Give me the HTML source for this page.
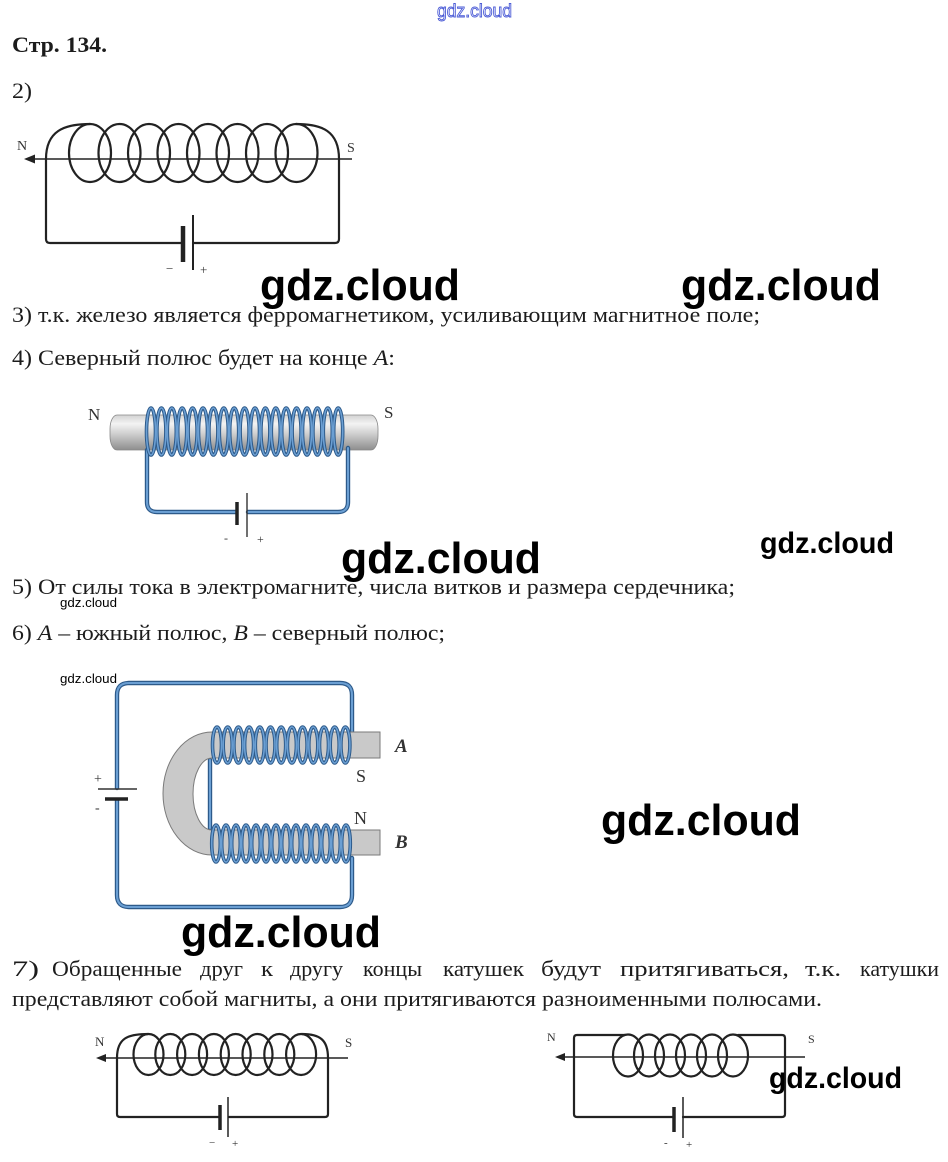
<!DOCTYPE html>
<html>
<head>
<meta charset="utf-8">
<style>
html,body{margin:0;padding:0;background:#fff;}
svg{display:block;}
.t{font-family:"Liberation Serif","DejaVu Serif",serif;font-size:22px;fill:#1c1c1c;}
.wm{font-family:"Liberation Sans","DejaVu Sans",sans-serif;font-weight:bold;fill:#000;}
.wms{font-family:"Liberation Sans","DejaVu Sans",sans-serif;fill:#000;}
.lbl{font-family:"Liberation Serif","DejaVu Serif",serif;fill:#333;}
.w{fill:none;stroke:#222;stroke-width:2.2;stroke-linecap:round;stroke-linejoin:round;}
.bo{fill:none;stroke:#2d5a8a;stroke-width:4.4;stroke-linecap:round;stroke-linejoin:round;}
.bi{fill:none;stroke:#6b9fd3;stroke-width:2;stroke-linecap:round;stroke-linejoin:round;}
</style>
</head>
<body>
<svg width="948" height="1162" viewBox="0 0 948 1162" xmlns="http://www.w3.org/2000/svg">
<defs>
<linearGradient id="rod" x1="0" y1="0" x2="0" y2="1">
<stop offset="0" stop-color="#d2d2d2"/>
<stop offset="0.25" stop-color="#f3f3f3"/>
<stop offset="0.55" stop-color="#cdcdcd"/>
<stop offset="1" stop-color="#8e8e8e"/>
</linearGradient>
</defs>
<rect width="948" height="1162" fill="#fff"/>

<!-- top small watermark -->
<text x="437" y="17" font-family="Liberation Sans, DejaVu Sans, sans-serif" font-size="18" fill="#fff" stroke="#4b5bd6" stroke-width="0.9" textLength="75" lengthAdjust="spacingAndGlyphs">gdz.cloud</text>

<!-- header -->
<text x="12" y="52" class="t" font-weight="bold" font-size="21" textLength="95" lengthAdjust="spacingAndGlyphs">Стр. 134.</text>
<text x="12" y="98" class="t" textLength="20" lengthAdjust="spacingAndGlyphs">2)</text>

<!-- Diagram 1 -->
<g>
<line x1="32" y1="159" x2="352" y2="159" stroke="#222" stroke-width="1.6"/>
<polygon points="24,159 35,154.5 35,163.5" fill="#222"/>
<text x="17" y="150" class="lbl" font-size="14">N</text>
<text x="347" y="152" class="lbl" font-size="14">S</text>
<path class="w" d="M46,159 L46,239 Q46,243 50,243 L183,243"/>
<path class="w" d="M193,243 L335,243 Q339,243 339,239 L339,159"/>
<line x1="183" y1="226" x2="183" y2="262" stroke="#222" stroke-width="4.5"/>
<line x1="193" y1="215" x2="193" y2="270" stroke="#222" stroke-width="2"/>
<text x="166" y="273" class="lbl" font-size="13">−</text>
<text x="200" y="274" class="lbl" font-size="13">+</text>
<path class="w" d="M46,159 C46,131 64,124 90,124"/>
<path class="w" d="M296,124 C322,124 339,131 339,159"/>
<g class="w">
<ellipse cx="90" cy="153" rx="21" ry="29"/>
<ellipse cx="119.5" cy="153" rx="21" ry="29"/>
<ellipse cx="149" cy="153" rx="21" ry="29"/>
<ellipse cx="178.5" cy="153" rx="21" ry="29"/>
<ellipse cx="208" cy="153" rx="21" ry="29"/>
<ellipse cx="237.5" cy="153" rx="21" ry="29"/>
<ellipse cx="267" cy="153" rx="21" ry="29"/>
<ellipse cx="296.5" cy="153" rx="21" ry="29"/>
</g>
</g>

<!-- big watermarks row 1 -->
<text x="260" y="300" class="wm" font-size="44" textLength="200" lengthAdjust="spacingAndGlyphs">gdz.cloud</text>
<text x="681" y="300" class="wm" font-size="44" textLength="200" lengthAdjust="spacingAndGlyphs">gdz.cloud</text>

<!-- text lines 3,4 -->
<text x="12" y="322" class="t" textLength="748" lengthAdjust="spacingAndGlyphs">3) т.к. железо является ферромагнетиком, усиливающим магнитное поле;</text>
<text x="12" y="365" class="t" textLength="383" lengthAdjust="spacingAndGlyphs">4) Северный полюс будет на конце <tspan font-style="italic">A</tspan>:</text>

<!-- Diagram 2: rod -->
<g>
<text x="88" y="420" class="lbl" font-size="17">N</text>
<text x="384" y="418" class="lbl" font-size="17">S</text>
<rect x="110" y="415" width="268" height="35" rx="7" ry="14" fill="url(#rod)" stroke="#888" stroke-width="0.8"/>
<path class="bo" d="M147,450 L147,502 Q147,512 157,512 L236,512"/>
<path class="bo" d="M248,512 L338,512 Q348,512 348,502 L348,448"/>
<path class="bi" d="M147,450 L147,502 Q147,512 157,512 L236,512"/>
<path class="bi" d="M248,512 L338,512 Q348,512 348,502 L348,448"/>
<g fill="none" stroke="#2d5a8a" stroke-width="3.6">
<ellipse cx="151" cy="431.5" rx="4.5" ry="23.5"/><ellipse cx="161.4" cy="431.5" rx="4.5" ry="23.5"/><ellipse cx="171.8" cy="431.5" rx="4.5" ry="23.5"/><ellipse cx="182.2" cy="431.5" rx="4.5" ry="23.5"/><ellipse cx="192.6" cy="431.5" rx="4.5" ry="23.5"/><ellipse cx="203" cy="431.5" rx="4.5" ry="23.5"/><ellipse cx="213.4" cy="431.5" rx="4.5" ry="23.5"/><ellipse cx="223.8" cy="431.5" rx="4.5" ry="23.5"/><ellipse cx="234.2" cy="431.5" rx="4.5" ry="23.5"/><ellipse cx="244.6" cy="431.5" rx="4.5" ry="23.5"/><ellipse cx="255" cy="431.5" rx="4.5" ry="23.5"/><ellipse cx="265.4" cy="431.5" rx="4.5" ry="23.5"/><ellipse cx="275.8" cy="431.5" rx="4.5" ry="23.5"/><ellipse cx="286.2" cy="431.5" rx="4.5" ry="23.5"/><ellipse cx="296.6" cy="431.5" rx="4.5" ry="23.5"/><ellipse cx="307" cy="431.5" rx="4.5" ry="23.5"/><ellipse cx="317.4" cy="431.5" rx="4.5" ry="23.5"/><ellipse cx="327.8" cy="431.5" rx="4.5" ry="23.5"/><ellipse cx="338.2" cy="431.5" rx="4.5" ry="23.5"/>
</g>
<g fill="none" stroke="#6b9fd3" stroke-width="1.6">
<ellipse cx="151" cy="431.5" rx="4.5" ry="23.5"/><ellipse cx="161.4" cy="431.5" rx="4.5" ry="23.5"/><ellipse cx="171.8" cy="431.5" rx="4.5" ry="23.5"/><ellipse cx="182.2" cy="431.5" rx="4.5" ry="23.5"/><ellipse cx="192.6" cy="431.5" rx="4.5" ry="23.5"/><ellipse cx="203" cy="431.5" rx="4.5" ry="23.5"/><ellipse cx="213.4" cy="431.5" rx="4.5" ry="23.5"/><ellipse cx="223.8" cy="431.5" rx="4.5" ry="23.5"/><ellipse cx="234.2" cy="431.5" rx="4.5" ry="23.5"/><ellipse cx="244.6" cy="431.5" rx="4.5" ry="23.5"/><ellipse cx="255" cy="431.5" rx="4.5" ry="23.5"/><ellipse cx="265.4" cy="431.5" rx="4.5" ry="23.5"/><ellipse cx="275.8" cy="431.5" rx="4.5" ry="23.5"/><ellipse cx="286.2" cy="431.5" rx="4.5" ry="23.5"/><ellipse cx="296.6" cy="431.5" rx="4.5" ry="23.5"/><ellipse cx="307" cy="431.5" rx="4.5" ry="23.5"/><ellipse cx="317.4" cy="431.5" rx="4.5" ry="23.5"/><ellipse cx="327.8" cy="431.5" rx="4.5" ry="23.5"/><ellipse cx="338.2" cy="431.5" rx="4.5" ry="23.5"/>
</g>
<line x1="237" y1="502" x2="237" y2="525" stroke="#222" stroke-width="3.5"/>
<line x1="247" y1="493" x2="247" y2="537" stroke="#333" stroke-width="1.4"/>
<text x="224" y="542" class="lbl" font-size="12">-</text>
<text x="257" y="543" class="lbl" font-size="12">+</text>
</g>

<!-- watermarks row 2 -->
<text x="341" y="573" class="wm" font-size="44" textLength="200" lengthAdjust="spacingAndGlyphs">gdz.cloud</text>
<text x="760" y="553" class="wm" font-size="30" textLength="134" lengthAdjust="spacingAndGlyphs">gdz.cloud</text>

<!-- line 5 -->
<text x="12" y="594" class="t" textLength="723" lengthAdjust="spacingAndGlyphs">5) От силы тока в электромагните, числа витков и размера сердечника;</text>
<text x="60" y="607" class="wms" font-size="13" textLength="57" lengthAdjust="spacingAndGlyphs">gdz.cloud</text>
<!-- line 6 -->
<text x="12" y="640" class="t" textLength="433" lengthAdjust="spacingAndGlyphs">6) <tspan font-style="italic">A</tspan> – южный полюс, <tspan font-style="italic">B</tspan> – северный полюс;</text>
<text x="60" y="683" class="wms" font-size="13" textLength="57" lengthAdjust="spacingAndGlyphs">gdz.cloud</text>

<!-- Diagram 3: U magnet -->
<g>
<path class="bo" d="M352,732 L352,695 Q352,683 340,683 L129,683 Q117,683 117,695 L117,788"/>
<path class="bo" d="M117,800 L117,895 Q117,907 129,907 L340,907 Q352,907 352,895 L352,858"/>
<path class="bo" d="M210,760 L210,828"/>
<path class="bi" d="M352,732 L352,695 Q352,683 340,683 L129,683 Q117,683 117,695 L117,788"/>
<path class="bi" d="M117,800 L117,895 Q117,907 129,907 L340,907 Q352,907 352,895 L352,858"/>
<path class="bi" d="M210,760 L210,828"/>
<line x1="98" y1="789" x2="137" y2="789" stroke="#333" stroke-width="1.5"/>
<line x1="105" y1="799" x2="128" y2="799" stroke="#222" stroke-width="3.5"/>
<text x="94" y="783" class="lbl" font-size="14">+</text>
<text x="95" y="812" class="lbl" font-size="14">-</text>
<path d="M380,732 L212,732 A49,61.5 0 0 0 212,855 L380,855 L380,830 L212,830 A19,36 0 0 1 212,758 L380,758 Z" fill="#c9c9c9" stroke="#7a7a7a" stroke-width="1"/>
<g fill="none" stroke="#2d5a8a" stroke-width="3.6">
<ellipse cx="217" cy="745" rx="4.5" ry="18"/><ellipse cx="227.7" cy="745" rx="4.5" ry="18"/><ellipse cx="238.4" cy="745" rx="4.5" ry="18"/><ellipse cx="249.1" cy="745" rx="4.5" ry="18"/><ellipse cx="259.8" cy="745" rx="4.5" ry="18"/><ellipse cx="270.5" cy="745" rx="4.5" ry="18"/><ellipse cx="281.2" cy="745" rx="4.5" ry="18"/><ellipse cx="291.9" cy="745" rx="4.5" ry="18"/><ellipse cx="302.6" cy="745" rx="4.5" ry="18"/><ellipse cx="313.3" cy="745" rx="4.5" ry="18"/><ellipse cx="324" cy="745" rx="4.5" ry="18"/><ellipse cx="334.7" cy="745" rx="4.5" ry="18"/><ellipse cx="345.4" cy="745" rx="4.5" ry="18"/>
<ellipse cx="216" cy="843.5" rx="4.3" ry="18.5"/><ellipse cx="226" cy="843.5" rx="4.3" ry="18.5"/><ellipse cx="236" cy="843.5" rx="4.3" ry="18.5"/><ellipse cx="246" cy="843.5" rx="4.3" ry="18.5"/><ellipse cx="256" cy="843.5" rx="4.3" ry="18.5"/><ellipse cx="266" cy="843.5" rx="4.3" ry="18.5"/><ellipse cx="276" cy="843.5" rx="4.3" ry="18.5"/><ellipse cx="286" cy="843.5" rx="4.3" ry="18.5"/><ellipse cx="296" cy="843.5" rx="4.3" ry="18.5"/><ellipse cx="306" cy="843.5" rx="4.3" ry="18.5"/><ellipse cx="316" cy="843.5" rx="4.3" ry="18.5"/><ellipse cx="326" cy="843.5" rx="4.3" ry="18.5"/><ellipse cx="336" cy="843.5" rx="4.3" ry="18.5"/><ellipse cx="346" cy="843.5" rx="4.3" ry="18.5"/>
</g>
<g fill="none" stroke="#6b9fd3" stroke-width="1.6">
<ellipse cx="217" cy="745" rx="4.5" ry="18"/><ellipse cx="227.7" cy="745" rx="4.5" ry="18"/><ellipse cx="238.4" cy="745" rx="4.5" ry="18"/><ellipse cx="249.1" cy="745" rx="4.5" ry="18"/><ellipse cx="259.8" cy="745" rx="4.5" ry="18"/><ellipse cx="270.5" cy="745" rx="4.5" ry="18"/><ellipse cx="281.2" cy="745" rx="4.5" ry="18"/><ellipse cx="291.9" cy="745" rx="4.5" ry="18"/><ellipse cx="302.6" cy="745" rx="4.5" ry="18"/><ellipse cx="313.3" cy="745" rx="4.5" ry="18"/><ellipse cx="324" cy="745" rx="4.5" ry="18"/><ellipse cx="334.7" cy="745" rx="4.5" ry="18"/><ellipse cx="345.4" cy="745" rx="4.5" ry="18"/>
<ellipse cx="216" cy="843.5" rx="4.3" ry="18.5"/><ellipse cx="226" cy="843.5" rx="4.3" ry="18.5"/><ellipse cx="236" cy="843.5" rx="4.3" ry="18.5"/><ellipse cx="246" cy="843.5" rx="4.3" ry="18.5"/><ellipse cx="256" cy="843.5" rx="4.3" ry="18.5"/><ellipse cx="266" cy="843.5" rx="4.3" ry="18.5"/><ellipse cx="276" cy="843.5" rx="4.3" ry="18.5"/><ellipse cx="286" cy="843.5" rx="4.3" ry="18.5"/><ellipse cx="296" cy="843.5" rx="4.3" ry="18.5"/><ellipse cx="306" cy="843.5" rx="4.3" ry="18.5"/><ellipse cx="316" cy="843.5" rx="4.3" ry="18.5"/><ellipse cx="326" cy="843.5" rx="4.3" ry="18.5"/><ellipse cx="336" cy="843.5" rx="4.3" ry="18.5"/><ellipse cx="346" cy="843.5" rx="4.3" ry="18.5"/>
</g>
<text x="395" y="752" class="lbl" font-size="19" font-weight="bold" font-style="italic">A</text>
<text x="356" y="782" class="lbl" font-size="18">S</text>
<text x="354" y="824" class="lbl" font-size="18">N</text>
<text x="395" y="848" class="lbl" font-size="19" font-weight="bold" font-style="italic">B</text>
</g>

<!-- watermarks row 3 -->
<text x="601" y="835" class="wm" font-size="44" textLength="200" lengthAdjust="spacingAndGlyphs">gdz.cloud</text>
<text x="181" y="947" class="wm" font-size="44" textLength="200" lengthAdjust="spacingAndGlyphs">gdz.cloud</text>

<!-- line 7 -->
<g class="t">
<text x="12" y="976" textLength="27" lengthAdjust="spacingAndGlyphs">7)</text>
<text x="52" y="976" textLength="130" lengthAdjust="spacingAndGlyphs">Обращенные</text>
<text x="200" y="976" textLength="43" lengthAdjust="spacingAndGlyphs">друг</text>
<text x="261" y="976" textLength="12" lengthAdjust="spacingAndGlyphs">к</text>
<text x="290" y="976" textLength="53" lengthAdjust="spacingAndGlyphs">другу</text>
<text x="363" y="976" textLength="59" lengthAdjust="spacingAndGlyphs">концы</text>
<text x="443" y="976" textLength="81" lengthAdjust="spacingAndGlyphs">катушек</text>
<text x="541" y="976" textLength="60" lengthAdjust="spacingAndGlyphs">будут</text>
<text x="620" y="976" textLength="169" lengthAdjust="spacingAndGlyphs">притягиваться,</text>
<text x="805" y="976" textLength="36" lengthAdjust="spacingAndGlyphs">т.к.</text>
<text x="860" y="976" textLength="79" lengthAdjust="spacingAndGlyphs">катушки</text>
</g>
<text x="12" y="1006" class="t" textLength="810" lengthAdjust="spacingAndGlyphs">представляют собой магниты, а они притягиваются разноименными полюсами.</text>

<!-- Diagram 4 (bottom left) -->
<g>
<line x1="104" y1="1058" x2="348" y2="1058" stroke="#222" stroke-width="1.5"/>
<polygon points="96,1058 106,1054 106,1062" fill="#222"/>
<text x="95" y="1046" class="lbl" font-size="13">N</text>
<text x="345" y="1047" class="lbl" font-size="13">S</text>
<path class="w" d="M117,1058 L117,1114 Q117,1117 120,1117 L219,1117"/>
<path class="w" d="M229,1117 L325,1117 Q328,1117 328,1114 L328,1058"/>
<path class="w" d="M117,1058 C117,1038 128,1034 148,1034"/>
<path class="w" d="M302,1034 C320,1034 328,1040 328,1058"/>
<g class="w">
<ellipse cx="148.5" cy="1054.5" rx="15" ry="20.5"/><ellipse cx="170.3" cy="1054.5" rx="15" ry="20.5"/><ellipse cx="192.1" cy="1054.5" rx="15" ry="20.5"/><ellipse cx="213.9" cy="1054.5" rx="15" ry="20.5"/><ellipse cx="235.7" cy="1054.5" rx="15" ry="20.5"/><ellipse cx="257.5" cy="1054.5" rx="15" ry="20.5"/><ellipse cx="279.3" cy="1054.5" rx="15" ry="20.5"/><ellipse cx="301.1" cy="1054.5" rx="15" ry="20.5"/>
</g>
<line x1="220" y1="1105" x2="220" y2="1130" stroke="#222" stroke-width="3.5"/>
<line x1="228" y1="1097" x2="228" y2="1137" stroke="#222" stroke-width="1.5"/>
<text x="209" y="1146" class="lbl" font-size="11">−</text>
<text x="232" y="1147" class="lbl" font-size="11">+</text>
</g>

<!-- Diagram 5 (bottom right) -->
<g>
<line x1="563" y1="1057" x2="805" y2="1057" stroke="#222" stroke-width="1.5"/>
<polygon points="555,1057 565,1053 565,1061" fill="#222"/>
<text x="547" y="1041" class="lbl" font-size="12">N</text>
<text x="808" y="1043" class="lbl" font-size="12">S</text>
<path class="w" d="M625,1035 L577,1035 Q574,1035 574,1038 L574,1114 Q574,1117 577,1117 L673,1117"/>
<path class="w" d="M683,1117 L782,1117 Q785,1117 785,1114 L785,1038 Q785,1035 782,1035 L738,1035"/>
<g class="w">
<ellipse cx="628" cy="1055.5" rx="15" ry="21"/><ellipse cx="649" cy="1055.5" rx="15" ry="21"/><ellipse cx="670" cy="1055.5" rx="15" ry="21"/><ellipse cx="691" cy="1055.5" rx="15" ry="21"/><ellipse cx="712" cy="1055.5" rx="15" ry="21"/><ellipse cx="733" cy="1055.5" rx="15" ry="21"/>
</g>
<line x1="674" y1="1107" x2="674" y2="1132" stroke="#222" stroke-width="3.5"/>
<line x1="683" y1="1097" x2="683" y2="1138" stroke="#222" stroke-width="1.5"/>
<text x="664" y="1146" class="lbl" font-size="11">-</text>
<text x="686" y="1148" class="lbl" font-size="11">+</text>
</g>

<!-- watermark bottom right -->
<text x="769" y="1088" class="wm" font-size="30" textLength="133" lengthAdjust="spacingAndGlyphs">gdz.cloud</text>
</svg>
</body>
</html>
